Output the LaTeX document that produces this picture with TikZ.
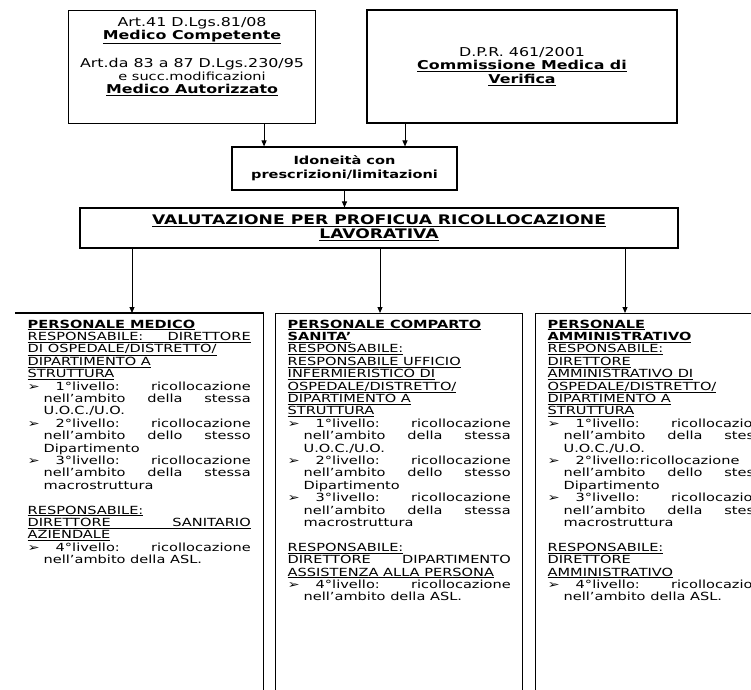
\documentclass[tikz,border=0pt]{standalone}
\usepackage{fontspec}
\setmainfont[FakeStretch=1.3]{DejaVu Sans}
\usetikzlibrary{arrows.meta}

\newlength{\colw}\setlength{\colw}{223pt}
\newlength{\bulw}\setlength{\bulw}{28pt}
\newlength{\hanw}\setlength{\hanw}{16pt}
\newlength{\bodw}\setlength{\bodw}{195pt}
\newlength{\nxtw}\setlength{\nxtw}{207pt}
\newcommand{\jrow}[1]{\makebox[\colw][s]{#1}}
\newcommand{\bfirst}[1]{\makebox[\bulw][l]{➢}\makebox[\bodw][s]{#1}}
\newcommand{\bnext}[1]{\hspace*{\hanw}\makebox[\nxtw][s]{#1}}
\newcommand{\blast}[1]{\hspace*{\hanw}#1}
\newcommand{\colfont}{\fontsize{11.2}{12.4}\selectfont}

\begin{document}
\begin{tikzpicture}[x=1pt, y=-1pt,
  box/.style={draw, line width=1.1pt},
  col/.style={anchor=north west, inner xsep=12pt, inner ysep=6pt, line width=1.4pt},
  arr/.style={-{Triangle[length=6pt,width=5pt]}, line width=1pt}]
  \fill[white] (0,0) rectangle (751,689);
  \useasboundingbox (0,0) rectangle (751,689);

  \node[box, anchor=north west, inner xsep=4pt, inner ysep=7pt] (art) at (68,10) {\parbox[t][99pt][t]{239pt}{\centering\fontsize{12.2}{13}\selectfont
    Art.41 D.Lgs.81/08\\
    \textbf{\underline{Medico Competente}}\\[13pt]
    Art.da 83 a 87 D.Lgs.230/95\\
    {\fontsize{11.2}{12}\selectfont e succ.modificazioni}\\
    \textbf{\underline{Medico Autorizzato}}}};
  \node[box, minimum width=310pt, minimum height=113pt, align=center, font=\fontsize{12.2}{13.5}\selectfont] (dpr) at (522,66.5) {D.P.R. 461/2001\\\textbf{\underline{Commissione Medica di}}\\\textbf{\underline{Verifica}}};
  \node[box, minimum width=225pt, minimum height=43pt, align=center, font=\bfseries\fontsize{11.2}{14}\selectfont] (ido) at (344.5,168.5) {Idoneità con\\prescrizioni/limitazioni};
  \node[box, minimum width=598pt, minimum height=40pt, align=center, font=\bfseries\fontsize{13.2}{14}\selectfont] (val) at (379,228) {\underline{VALUTAZIONE PER PROFICUA RICOLLOCAZIONE}\\\underline{LAVORATIVA}};

  \node[col] (med) at (15,313) {\parbox[t][390pt][t]{\colw}{\colfont
    \textbf{\underline{PERSONALE MEDICO}}\\
    \underline{\jrow{RESPONSABILE: DIRETTORE}}\\
    \underline{DI OSPEDALE/DISTRETTO/}\\
    \underline{DIPARTIMENTO A}\\
    \underline{STRUTTURA}\\
    \bfirst{1°livello: ricollocazione}\\
    \bnext{nell’ambito della stessa}\\
    \blast{U.O.C./U.O.}\\
    \bfirst{2°livello: ricollocazione}\\
    \bnext{nell’ambito dello stesso}\\
    \blast{Dipartimento}\\
    \bfirst{3°livello: ricollocazione}\\
    \bnext{nell’ambito della stessa}\\
    \blast{macrostruttura}\\[12.4pt]
    \underline{RESPONSABILE:}\\
    \underline{\jrow{DIRETTORE SANITARIO}}\\
    \underline{AZIENDALE}\\
    \bfirst{4°livello: ricollocazione}\\
    \blast{nell’ambito della ASL.}}};
  \node[col, draw] (san) at (275,313) {\parbox[t][390pt][t]{\colw}{\colfont
    \textbf{\underline{PERSONALE COMPARTO}}\\
    \textbf{\underline{SANITA’}}\\
    \underline{RESPONSABILE:}\\
    \underline{RESPONSABILE UFFICIO}\\
    \underline{INFERMIERISTICO DI}\\
    \underline{OSPEDALE/DISTRETTO/}\\
    \underline{DIPARTIMENTO A}\\
    \underline{STRUTTURA}\\
    \bfirst{1°livello: ricollocazione}\\
    \bnext{nell’ambito della stessa}\\
    \blast{U.O.C./U.O.}\\
    \bfirst{2°livello: ricollocazione}\\
    \bnext{nell’ambito dello stesso}\\
    \blast{Dipartimento}\\
    \bfirst{3°livello: ricollocazione}\\
    \bnext{nell’ambito della stessa}\\
    \blast{macrostruttura}\\[12.4pt]
    \underline{RESPONSABILE:}\\
    \jrow{DIRETTORE DIPARTIMENTO}\\
    \underline{ASSISTENZA ALLA PERSONA}\\
    \bfirst{4°livello: ricollocazione}\\
    \blast{nell’ambito della ASL.}}};
  \node[col, draw] (amm) at (535,313) {\parbox[t][390pt][t]{\colw}{\colfont
    \textbf{\underline{PERSONALE}}\\
    \textbf{\underline{AMMINISTRATIVO}}\\
    \underline{RESPONSABILE:}\\
    \underline{DIRETTORE}\\
    \underline{AMMINISTRATIVO DI}\\
    \underline{OSPEDALE/DISTRETTO/}\\
    \underline{DIPARTIMENTO A}\\
    \underline{STRUTTURA}\\
    \bfirst{1°livello: ricollocazione}\\
    \bnext{nell’ambito della stessa}\\
    \blast{U.O.C./U.O.}\\
    \makebox[\bulw][l]{➢}2°livello:ricollocazione\\
    \bnext{nell’ambito dello stesso}\\
    \blast{Dipartimento}\\
    \bfirst{3°livello: ricollocazione}\\
    \bnext{nell’ambito della stessa}\\
    \blast{macrostruttura}\\[12.4pt]
    \underline{RESPONSABILE:}\\
    DIRETTORE\\
    \underline{AMMINISTRATIVO}\\
    \bfirst{4°livello: ricollocazione}\\
    \blast{nell’ambito della ASL.}}};
  \draw[line width=1.4pt] (med.north west) -- (med.north east) -- (med.south east);

  \draw[arr] ([xshift=72pt]art.south) -- ([xshift=72pt]art.south |- ido.north);
  \draw[arr] ([xshift=-117pt]dpr.south) -- ([xshift=-117pt]dpr.south |- ido.north);
  \draw[arr] (ido.south) -- (ido.south |- val.north);
  \draw[arr] ([xshift=-247pt]val.south) -- ([xshift=-247pt]val.south |- med.north);
  \draw[arr] ([xshift=1pt]val.south) -- ([xshift=1pt]val.south |- san.north);
  \draw[arr] ([xshift=246pt]val.south) -- ([xshift=246pt]val.south |- amm.north);
\end{tikzpicture}
\end{document}
